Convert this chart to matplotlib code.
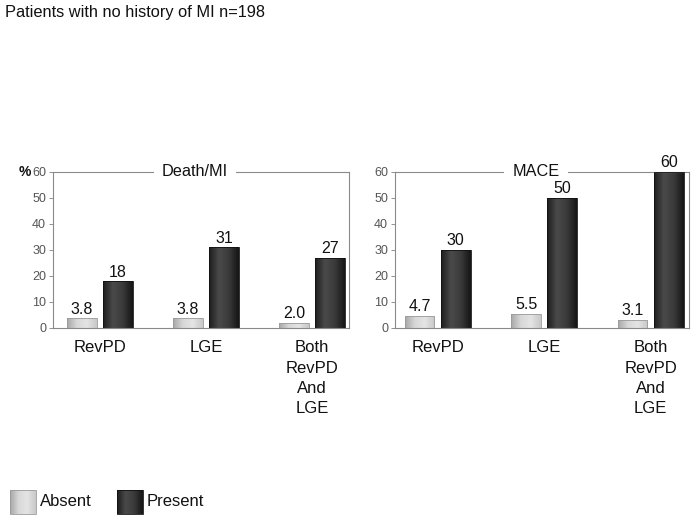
import numpy as np
import matplotlib
matplotlib.use("Agg")
import matplotlib.pyplot as plt
from matplotlib.patches import Rectangle

categories = ["RevPD", "LGE", "Both\nRevPD\nAnd\nLGE"]
death_absent = [3.8, 3.8, 2.0]
death_present = [18, 31, 27]
mace_absent = [4.7, 5.5, 3.1]
mace_present = [30, 50, 60]
death_absent_lbl = ["3.8", "3.8", "2.0"]
death_present_lbl = ["18", "31", "27"]
mace_absent_lbl = ["4.7", "5.5", "3.1"]
mace_present_lbl = ["30", "50", "60"]
yticks = [0, 10, 20, 30, 40, 50, 60]

plt.rcParams['font.family'] = ['Liberation Sans', 'DejaVu Sans']

fig = plt.figure(figsize=(6.97, 5.2), dpi=100)

absent_cmap = matplotlib.colors.LinearSegmentedColormap.from_list(
    "abs", ["#a8a8a8", "#d8d8d8", "#e4e4e4", "#c8c8c8"])
present_cmap = matplotlib.colors.LinearSegmentedColormap.from_list(
    "pre", ["#1e1e1e", "#4a4a4a", "#3a3a3a", "#151515"])

grad = np.linspace(0, 1, 64).reshape(1, -1)


def gradient_bars(ax, bars, cmap):
    for b in bars:
        x0, w, h = b.get_x(), b.get_width(), b.get_height()
        b.set_facecolor("none")
        im = ax.imshow(grad, cmap=cmap, extent=(x0, x0 + w, 0, h),
                       aspect="auto", zorder=2, interpolation="bicubic")
        im.set_clip_path(b)


def panel(rect, title, absent, present, alab, plab, xlim):
    ax = fig.add_axes(rect)
    x = np.arange(len(categories))
    w = 0.28
    off = 0.17
    b1 = ax.bar(x - off, absent, w, color="#cccccc", edgecolor="#9a9a9a", linewidth=0.6, zorder=3)
    b2 = ax.bar(x + off, present, w, color="#333333", edgecolor="#111111", linewidth=0.6, zorder=3)
    ax.set_xlim(*xlim)
    ax.set_ylim(0, 60)
    gradient_bars(ax, b1, absent_cmap)
    gradient_bars(ax, b2, present_cmap)
    ax.set_xlim(*xlim)
    ax.set_ylim(0, 60)
    for xi, v, t in zip(x - off, absent, alab):
        ax.text(xi, v + 0.6, t, ha="center", va="bottom", fontsize=11.5,
                color="#111111", zorder=12, clip_on=False)
    for xi, v, t in zip(x + off, present, plab):
        ax.text(xi, v + 0.6, t, ha="center", va="bottom", fontsize=11.5,
                color="#111111", zorder=12, clip_on=False)
    ax.set_yticks(yticks)
    ax.set_yticklabels([str(t) for t in yticks], fontsize=9, color="#555555")
    ax.tick_params(axis="y", length=3, width=0.6, color="#808080", pad=2)
    ax.set_xticks(x)
    ax.set_xticklabels(categories, fontsize=12, color="#111111", linespacing=1.42)
    ax.tick_params(axis="x", length=0, pad=9)
    for s in ax.spines.values():
        s.set_color("#8a8a8a")
        s.set_linewidth(0.8)
    ax.text(0.48, 1.0, title, transform=ax.transAxes, ha="center", va="center",
            fontsize=11.7, color="#111111", zorder=10,
            bbox=dict(fc="white", ec="none", pad=6))
    return ax


ax1 = panel([53 / 697, 1 - 328 / 520, 296 / 697, 156 / 520], "Death/MI",
            death_absent, death_present, death_absent_lbl, death_present_lbl,
            (-0.443, 2.35))
ax2 = panel([395 / 697, 1 - 328 / 520, 294 / 697, 156 / 520], "MACE",
            mace_absent, mace_present, mace_absent_lbl, mace_present_lbl,
            (-0.40, 2.36))

fig.text(25 / 697, 1 - 172 / 520, "%", ha="center", va="center", fontsize=10,
         fontweight="bold", color="#111111")

fig.text(5 / 697, 1 - 12 / 520, "Patients with no history of MI n=198", ha="left",
         va="center", fontsize=11.8, color="#111111")

# legend
lax = fig.add_axes([0, 0, 1, 1], facecolor="none")
lax.set_xlim(0, 697)
lax.set_ylim(520, 0)
lax.axis("off")
for x0, cmap, ec, label in [(10, absent_cmap, "#9a9a9a", "Absent"),
                            (117, present_cmap, "#111111", "Present")]:
    r = Rectangle((x0, 490), 26, 24, fc="none", ec=ec, lw=0.6)
    lax.add_patch(r)
    im = lax.imshow(grad, cmap=cmap, extent=(x0, x0 + 26, 514, 490), aspect="auto",
                    interpolation="bicubic")
    im.set_clip_path(r)
    lax.text(x0 + 30, 502, label, ha="left", va="center", fontsize=12, color="#111111")
lax.set_xlim(0, 697)
lax.set_ylim(520, 0)

fig.savefig("out.png", dpi=100)
